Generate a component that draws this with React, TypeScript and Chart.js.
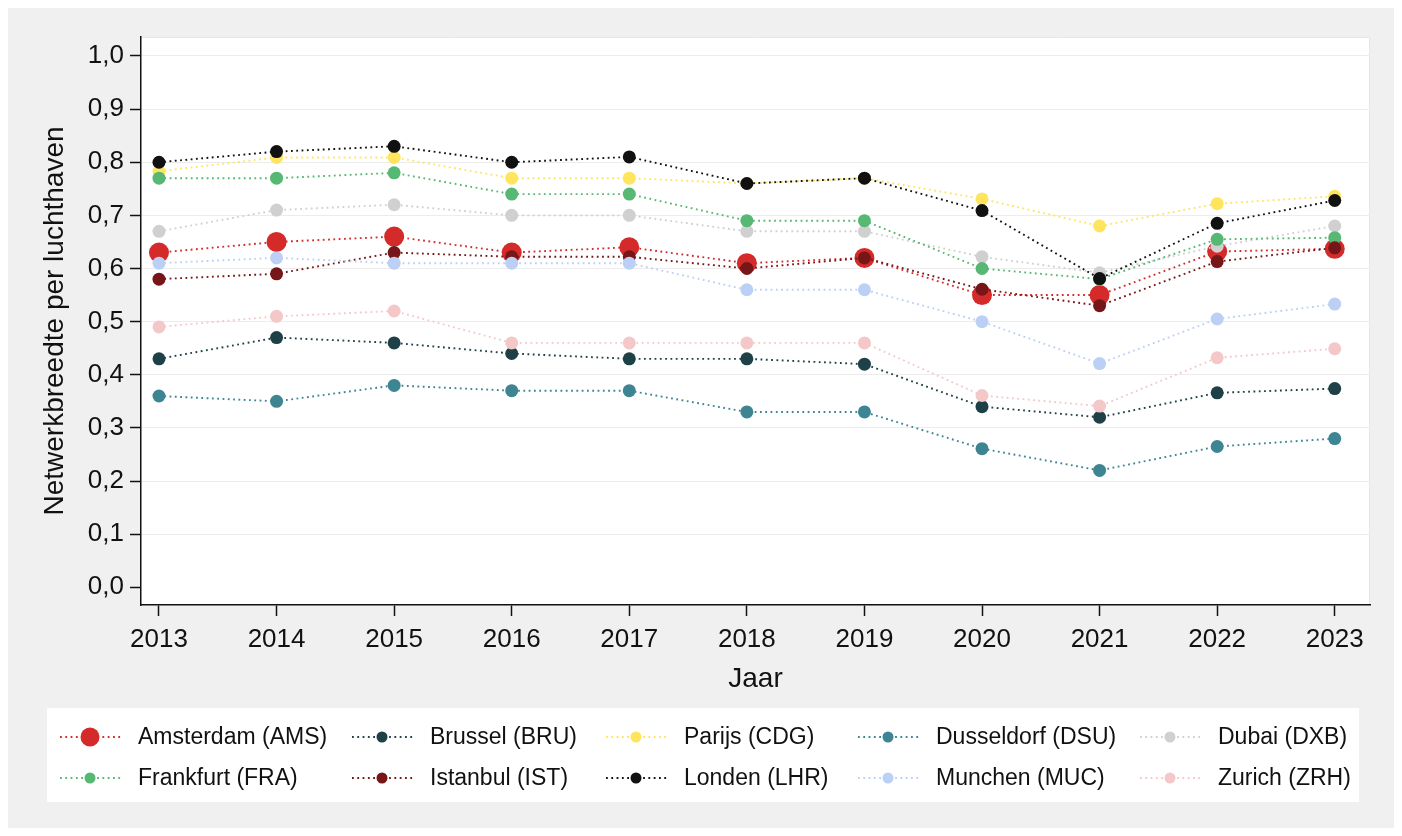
import React, { useEffect, useRef } from "react";
import { Chart, registerables } from "chart.js";

Chart.register(...registerables);

const years = [2013, 2014, 2015, 2016, 2017, 2018, 2019, 2020, 2021, 2022, 2023];
const yTickValues = [0, 0.1, 0.2, 0.3, 0.4, 0.5, 0.6, 0.7, 0.8, 0.9, 1.0];

const seriesLabels = [
  "Amsterdam (AMS)",
  "Brussel (BRU)",
  "Parijs (CDG)",
  "Dusseldorf (DSU)",
  "Dubai (DXB)",
  "Frankfurt (FRA)",
  "Istanbul (IST)",
  "Londen (LHR)",
  "Munchen (MUC)",
  "Zurich (ZRH)",
];

const amsterdam = [0.63, 0.65, 0.66, 0.63, 0.64, 0.61, 0.62, 0.55, 0.55, 0.632, 0.637];
const brussel = [0.43, 0.47, 0.46, 0.44, 0.43, 0.43, 0.42, 0.34, 0.32, 0.366, 0.374];
const parijs = [0.783, 0.809, 0.809, 0.77, 0.77, 0.76, 0.77, 0.731, 0.68, 0.722, 0.736];
const dusseldorf = [0.36, 0.35, 0.38, 0.37, 0.37, 0.33, 0.33, 0.261, 0.22, 0.265, 0.28];
const dubai = [0.67, 0.71, 0.72, 0.70, 0.70, 0.67, 0.67, 0.622, 0.592, 0.642, 0.68];
const frankfurt = [0.77, 0.77, 0.78, 0.74, 0.74, 0.69, 0.69, 0.60, 0.58, 0.655, 0.658];
const istanbul = [0.58, 0.59, 0.63, 0.622, 0.622, 0.60, 0.62, 0.561, 0.53, 0.613, 0.639];
const londen = [0.80, 0.82, 0.83, 0.80, 0.81, 0.76, 0.77, 0.709, 0.581, 0.685, 0.728];
const munchen = [0.61, 0.62, 0.61, 0.61, 0.61, 0.56, 0.56, 0.50, 0.421, 0.505, 0.533];
const zurich = [0.49, 0.51, 0.52, 0.46, 0.46, 0.46, 0.46, 0.361, 0.341, 0.432, 0.449];

const seriesValues = [amsterdam, brussel, parijs, dusseldorf, dubai, frankfurt, istanbul, londen, munchen, zurich];

const seriesColors = [
  "#d42a2a",
  "#1e4148",
  "#ffe55e",
  "#3d8593",
  "#d0d0d0",
  "#56b873",
  "#761618",
  "#111111",
  "#bcd0f5",
  "#f4c8c9",
];

const FONT = "'Liberation Sans', Arial, Helvetica, sans-serif";

const bgPlugin = {
  id: "bgPlugin",
  beforeDraw(chart: any) {
    const { ctx, chartArea, width, height } = chart;
    ctx.save();
    ctx.fillStyle = "#f0f0f0";
    ctx.fillRect(0, 0, width, height);
    ctx.fillStyle = "#ffffff";
    ctx.fillRect(chartArea.left, chartArea.top, chartArea.right - chartArea.left, chartArea.bottom - chartArea.top);
    ctx.strokeStyle = "#e6e6e6";
    ctx.lineWidth = 1;
    ctx.beginPath();
    ctx.moveTo(chartArea.left, chartArea.top + 0.5);
    ctx.lineTo(chartArea.right - 0.5, chartArea.top + 0.5);
    ctx.lineTo(chartArea.right - 0.5, chartArea.bottom);
    ctx.stroke();
    ctx.restore();
  },
};

const legendCols = [52, 344, 598, 850, 1132];
const legendRows = [729, 770];

const legendPlugin = {
  id: "boxLegend",
  afterDraw(chart: any) {
    const { ctx } = chart;
    ctx.save();
    ctx.fillStyle = "#ffffff";
    ctx.fillRect(39, 700, 1312, 94);
    chart.data.datasets.forEach((ds: any, i: number) => {
      const col = i % 5;
      const row = Math.floor(i / 5);
      const x0 = legendCols[col];
      const y = legendRows[row];
      ctx.strokeStyle = ds.borderColor;
      ctx.lineWidth = 1.8;
      ctx.setLineDash([1.8, 3.5]);
      ctx.beginPath();
      ctx.moveTo(x0, y);
      ctx.lineTo(x0 + 62, y);
      ctx.stroke();
      ctx.setLineDash([]);
      ctx.fillStyle = ds.pointBackgroundColor;
      ctx.beginPath();
      ctx.arc(x0 + 30, y, i === 0 ? 9.5 : 5.5, 0, Math.PI * 2);
      ctx.fill();
      ctx.fillStyle = "#111111";
      ctx.font = `23px ${FONT}`;
      ctx.textBaseline = "middle";
      ctx.textAlign = "left";
      ctx.fillText(ds.label, x0 + 78, y + 1);
    });
    ctx.restore();
  },
};

export default function App() {
  const canvasRef = useRef<HTMLCanvasElement | null>(null);

  useEffect(() => {
    if (!canvasRef.current) return;
    const datasets = seriesLabels.map((label, i) => ({
      label,
      data: years.map((yr, j) => ({ x: yr, y: seriesValues[i][j] })),
      borderColor: seriesColors[i],
      backgroundColor: seriesColors[i],
      pointBackgroundColor: seriesColors[i],
      pointBorderWidth: 0,
      pointRadius: i === 0 ? 10 : 6.5,
      pointHoverRadius: i === 0 ? 10 : 6.5,
      borderWidth: 1.9,
      borderDash: [1.8, 3.5],
      tension: 0,
      fill: false,
      order: 9 - i,
    }));

    const chart = new Chart(canvasRef.current, {
      type: "line",
      data: { datasets },
      plugins: [bgPlugin, legendPlugin],
      options: {
        animation: false,
        responsive: false,
        maintainAspectRatio: false,
        layout: { padding: { left: 0, right: 24, top: 29, bottom: 123 } },
        plugins: {
          legend: { display: false },
          tooltip: { enabled: false },
          title: { display: false },
        },
        scales: {
          x: {
            type: "linear",
            min: 2012.847,
            max: 2023.3,
            afterBuildTicks: (scale: any) => {
              scale.ticks = years.map((v) => ({ value: v }));
            },
            afterFit: (scale: any) => {
              scale.height = 100;
            },
            ticks: {
              autoSkip: false,
              maxRotation: 0,
              padding: 8,
              color: "#111111",
              font: { family: FONT, size: 26 },
              callback: (v: any) => String(v),
            },
            grid: {
              drawOnChartArea: false,
              drawTicks: true,
              tickLength: 11,
              tickColor: "#111111",
              tickWidth: 1.5,
            },
            border: { display: true, color: "#111111", width: 1.5 },
            title: {
              display: true,
              text: "Jaar",
              color: "#111111",
              font: { family: FONT, size: 28, lineHeight: 1 },
              padding: { top: 0, bottom: 12 },
            },
          },
          y: {
            type: "linear",
            min: -0.0333,
            max: 1.0357,
            afterBuildTicks: (scale: any) => {
              scale.ticks = yTickValues.map((v) => ({ value: v }));
            },
            afterFit: (scale: any) => {
              scale.width = 133;
            },
            ticks: {
              autoSkip: false,
              padding: 6,
              color: "#111111",
              font: { family: FONT, size: 26 },
              callback: (v: any) => Number(v).toFixed(1).replace(".", ","),
            },
            grid: {
              drawOnChartArea: true,
              color: (c: any) => (c.tick && c.tick.value === 0 ? "rgba(0,0,0,0)" : "#ececec"),
              lineWidth: 1,
              drawTicks: true,
              tickLength: 11,
              tickColor: "#111111",
              tickWidth: 1.5,
            },
            border: { display: true, color: "#111111", width: 1.5 },
            title: {
              display: true,
              text: "Netwerkbreedte per luchthaven",
              color: "#111111",
              font: { family: FONT, size: 28, lineHeight: 1 },
              padding: { top: 33, bottom: 0 },
            },
          },
        },
      },
    } as any);

    return () => {
      chart.destroy();
    };
  }, []);

  return (
    <div style={{ width: 1386, height: 820 }}>
      <canvas ref={canvasRef} width={1386} height={820} style={{ display: "block", width: 1386, height: 820 }} />
    </div>
  );
}
